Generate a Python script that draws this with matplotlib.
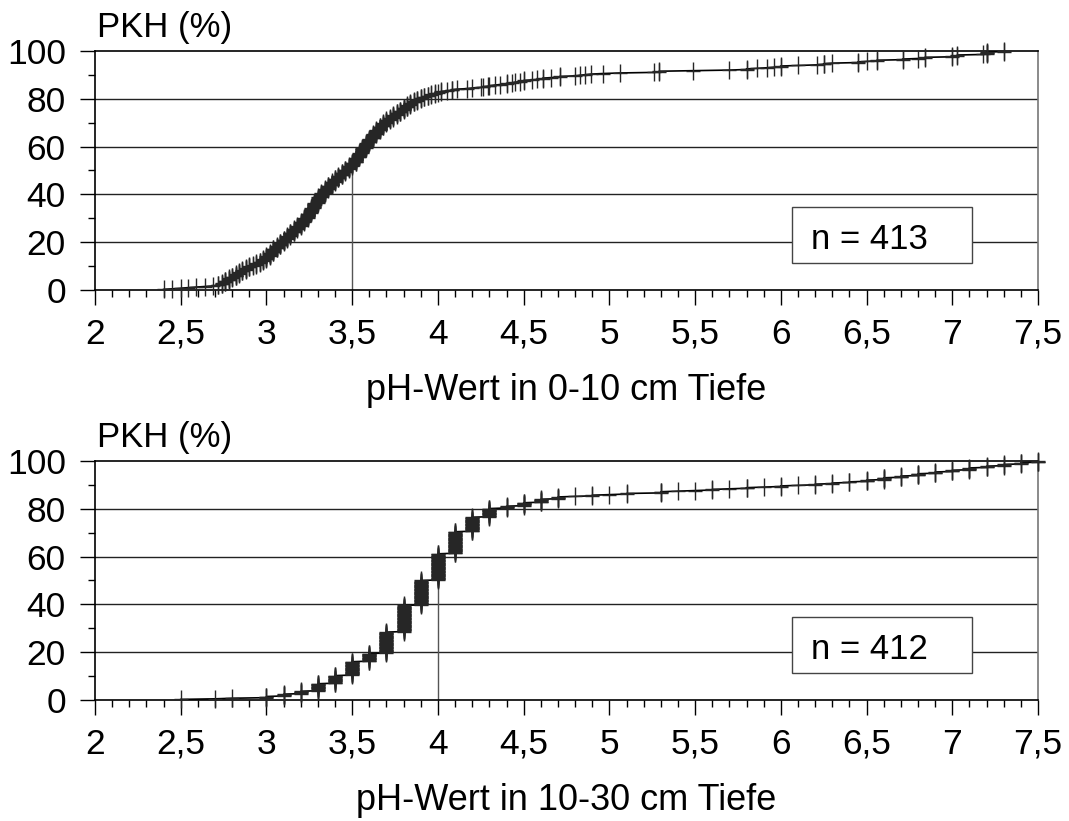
import numpy as np
import matplotlib
matplotlib.use("Agg")
import matplotlib.pyplot as plt
from matplotlib.path import Path
from matplotlib.patches import Rectangle

plt.rcParams['font.family'] = ['Liberation Sans', 'DejaVu Sans']

# pH values (distinct) and number of plots at each value, 0-10 cm
ph_top = [2.40, 2.45, 2.50, 2.54, 2.59, 2.64, 2.69,
          2.72, 2.74,
          2.76, 2.78, 2.80, 2.82, 2.84, 2.86, 2.88, 2.90, 2.92, 2.94, 2.96, 2.98,
          3.00, 3.02, 3.04, 3.06, 3.08, 3.10, 3.12, 3.14, 3.16, 3.18,
          3.20, 3.22, 3.24, 3.26, 3.28, 3.30,
          3.32, 3.34, 3.36, 3.38, 3.40,
          3.42, 3.44, 3.46, 3.48, 3.50,
          3.52, 3.54, 3.56, 3.58, 3.60,
          3.62, 3.64, 3.66, 3.68, 3.70,
          3.72, 3.74, 3.76, 3.78, 3.80,
          3.82, 3.84, 3.86, 3.88, 3.90,
          3.92, 3.94, 3.96, 3.98, 4.00,
          4.02, 4.05, 4.08, 4.11, 4.17, 4.20,
          4.25, 4.26, 4.29, 4.30, 4.33, 4.36,
          4.40, 4.43, 4.45, 4.48, 4.50,
          4.55, 4.58, 4.61, 4.66, 4.71,
          4.80, 4.83, 4.86, 4.89, 4.96, 5.06,
          5.26, 5.29, 5.49, 5.70, 5.80,
          5.86, 5.92, 5.96, 6.00, 6.10,
          6.21, 6.25, 6.30, 6.45, 6.50,
          6.56, 6.71, 6.80, 6.84, 7.00,
          7.03, 7.18, 7.20, 7.30]
n_top = [1, 1, 1, 1, 1, 1, 1,
         2, 3,
         4, 4, 3, 4, 4, 3, 4, 3, 2, 3, 3, 4,
         5, 6, 7, 5, 6, 5, 6, 6, 6, 5,
         7, 7, 8, 9, 9, 10,
         7, 7, 6, 6, 6,
         5, 6, 5, 6, 6,
         8, 8, 9, 9, 7,
         8, 7, 6, 6, 5,
         4, 5, 4, 4, 5,
         4, 4, 3, 3, 3,
         2, 2, 2, 2, 1,
         2, 1, 2, 1, 1, 1,
         1, 1, 1, 1, 1, 1,
         2, 1, 1, 1, 2,
         1, 1, 2, 1, 2,
         1, 1, 1, 1, 1, 1,
         1, 2, 1, 1, 2,
         1, 1, 1, 2, 1,
         1, 2, 1, 2, 1,
         2, 2, 1, 2, 2,
         2, 1, 4, 2]

# 10-30 cm
ph_bot = [2.5, 2.7, 2.8, 3.0, 3.1, 3.2, 3.3, 3.4, 3.5, 3.6, 3.7, 3.8, 3.9, 4.0,
          4.1, 4.2, 4.3, 4.4, 4.5, 4.6, 4.7, 4.8, 4.9, 5.0, 5.1, 5.3, 5.4, 5.5,
          5.6, 5.7, 5.8, 5.9, 6.0, 6.1, 6.2, 6.3, 6.4, 6.5, 6.6, 6.7, 6.8, 6.9,
          7.0, 7.1, 7.2, 7.3, 7.4, 7.5]
n_bot = [1, 1, 1, 3, 4, 5, 13, 14, 24, 14, 37, 46, 43, 46,
         38, 25, 15, 4, 6, 6, 4, 1, 2, 1, 2, 3, 1, 1,
         2, 1, 2, 1, 2, 1, 2, 2, 2, 3, 4, 3, 4, 3,
         3, 4, 3, 3, 3, 3]

median_top = 3.5
median_bot = 4.0

x_ticks = [2, 2.5, 3, 3.5, 4, 4.5, 5, 5.5, 6, 6.5, 7, 7.5]
x_labels = ['2', '2,5', '3', '3,5', '4', '4,5', '5', '5,5', '6', '6,5', '7', '7,5']
y_ticks = [0, 20, 40, 60, 80, 100]

panels = [
    (ph_top, n_top, median_top, 'pH-Wert in 0-10 cm Tiefe'),
    (ph_bot, n_bot, median_bot, 'pH-Wert in 10-30 cm Tiefe'),
]

# plus marker with a longer vertical arm
plus = Path([(-0.8, 0), (0.8, 0), (0, -1), (0, 1)],
            [Path.MOVETO, Path.LINETO, Path.MOVETO, Path.LINETO])

fig = plt.figure(figsize=(10.69, 8.21), dpi=100)
rects = [[0.0889, 0.6468, 0.8821, 0.2911],
         [0.0889, 0.1474, 0.8821, 0.2911]]

for rect, (ph, cnt, med, xlab) in zip(rects, panels):
    ax = fig.add_axes(rect)
    x = np.repeat(ph, cnt)
    n = len(x)
    y = np.arange(1, n + 1) / n * 100

    for g in [20, 40, 60, 80]:
        ax.axhline(g, color='#222222', lw=1.0, zorder=1)
    ax.vlines(med, 0, 50, color='#555555', lw=1.0, zorder=2)

    ax.plot(x, y, color='black', lw=1.2, zorder=3)
    ax.plot(x, y, ls='none', marker=plus, ms=13, mew=1.0,
            color='#262626', zorder=4, clip_on=False)

    ax.add_patch(Rectangle((0.739, 0.113), 0.191, 0.234, transform=ax.transAxes,
                           facecolor='white', edgecolor='#444444', lw=1.0, zorder=5))
    ax.text(0.759, 0.172, 'n = %d' % n, transform=ax.transAxes, fontsize=25,
            va='baseline', ha='left', zorder=6)
    ax.text(0.002, 1.058, 'PKH (%)', transform=ax.transAxes, fontsize=25,
            va='baseline', ha='left')

    ax.set_xlim(2, 7.5)
    ax.set_ylim(0, 100)
    ax.set_xticks(x_ticks)
    ax.set_xticklabels(x_labels)
    ax.set_xticks(np.arange(2, 7.51, 0.1), minor=True)
    ax.set_yticks(y_ticks)
    ax.set_yticks([10, 30, 50, 70, 90], minor=True)
    ax.tick_params(axis='both', which='major', direction='out', length=11,
                   width=1.0, labelsize=25.5, pad=9)
    ax.tick_params(axis='both', which='minor', direction='out', length=5, width=1.0)
    ax.tick_params(axis='y', which='major', pad=10)
    ax.set_xlabel(xlab, fontsize=26, labelpad=16)

    for s in ['left', 'bottom', 'top']:
        ax.spines[s].set_color('black')
        ax.spines[s].set_linewidth(1.2)
    ax.spines['right'].set_color('#777777')
    ax.spines['right'].set_linewidth(1.2)

fig.savefig('out.png', dpi=100)
